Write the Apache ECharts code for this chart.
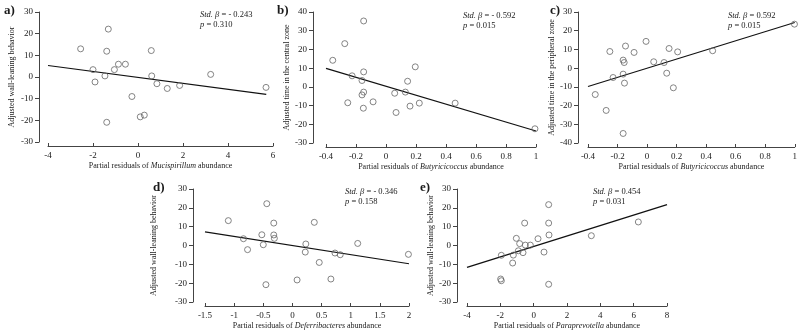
<!DOCTYPE html>
<html>
<head>
<meta charset="utf-8">
<script src="https://cdn.jsdelivr.net/npm/echarts@6.0.0/dist/echarts.min.js"></script>
<style>
    html, body { margin: 0; padding: 0; background: #fff; }
    #chart { width: 800px; height: 336px; }
</style>
</head>
<body>
<div id="chart"></div>
<script>
// values
const aX = [-2.55, -1.32, -1.39, 0.59, -2.0, -1.91, -1.47, -1.05, -0.87, -0.56, -0.27, 0.10, 0.28, -1.39, 0.61, 0.84, 1.30, 1.85, 3.23, 5.69];
const aY = [13.0, 22.1, 11.9, 12.2, 3.4, -2.3, 0.5, 3.4, 5.9, 5.9, -9.0, -18.4, -17.6, -20.9, 0.5, -3.1, -5.3, -3.9, 1.2, -4.8];
const bX = [-0.355, -0.275, -0.149, -0.226, -0.160, -0.149, -0.149, -0.160, -0.255, -0.151, -0.086, 0.058, 0.067, 0.129, 0.144, 0.195, 0.160, 0.222, 0.461, 0.993];
const bY = [14.2, 23.1, 35.2, 5.9, 3.4, 8.0, -2.8, -4.3, -8.5, -11.4, -8.0, -3.4, -13.7, -2.8, 3.0, 10.7, -10.3, -8.7, -8.7, -22.4];
const cX = [-0.351, -0.277, -0.252, -0.230, -0.162, -0.155, -0.146, -0.162, -0.153, -0.162, -0.088, -0.007, 0.045, 0.115, 0.133, 0.149, 0.207, 0.178, 0.444, 0.998];
const cY = [-14.1, -22.6, 8.9, -5.0, 4.3, 3.0, 11.8, -3.2, -8.0, -34.9, 8.4, 14.3, 3.4, 3.0, -2.7, 10.5, 8.7, -10.5, 9.3, 23.5];
const dX = [-1.10, -0.44, -0.32, 0.375, -0.84, -0.77, -0.525, -0.50, -0.32, -0.31, -0.455, 0.23, 0.22, 0.46, 0.08, 0.66, 0.73, 0.82, 1.12, 1.99];
const dY = [13.2, 22.2, 11.9, 12.3, 3.6, -2.2, 5.7, 0.4, 5.6, 3.8, -20.8, 0.8, -3.5, -9.0, -18.3, -17.8, -4.0, -4.9, 1.1, -4.7];
const eX = [0.9, -0.54, 0.9, 0.92, 3.46, 6.28, -1.04, -0.84, -0.5, -0.2, 0.26, -1.94, -1.22, -0.92, -0.64, 0.62, -1.26, -1.98, -1.94, 0.9];
const eY = [21.7, 11.9, 11.9, 5.6, 5.2, 12.5, 3.8, 1.0, 0.2, 0.2, 3.6, -5.2, -5.1, -2.8, -3.8, -3.5, -9.3, -17.8, -18.7, -20.6];

// regression line end points
const aFitX = [-4, 5.7], aFitY = [5.3, -8.0];
const bFitX = [-0.4, 1.0], bFitY = [9.9, -23.6];
const cFitX = [-0.4, 1.0], cFitY = [-9.8, 24.4];
const dFitX = [-1.5, 2.0], dFitY = [7.2, -9.7];
const eFitX = [-4, 8], eFitY = [-11.6, 21.7];

// tick labels
const aXTicks = [-4, -2, 0, 2, 4, 6], aYTicks = [-30, -20, -10, 0, 10, 20, 30];
const bXTicks = [-0.4, -0.2, 0, 0.2, 0.4, 0.6, 0.8, 1], bYTicks = [-30, -20, -10, 0, 10, 20, 30, 40];
const cXTicks = [-0.4, -0.2, 0, 0.2, 0.4, 0.6, 0.8, 1], cYTicks = [-40, -30, -20, -10, 0, 10, 20, 30];
const dXTicks = [-1.5, -1, -0.5, 0, 0.5, 1, 1.5, 2], dYTicks = [-30, -20, -10, 0, 10, 20, 30];
const eXTicks = [-4, -2, 0, 2, 4, 6, 8], eYTicks = [-30, -20, -10, 0, 10, 20, 30];

const panelLetters = ["a)", "b)", "c)", "d)", "e)"];
const yNames = [
    "Adjusted wall-leaning behavior",
    "Adjusted time in the central zone",
    "Adjusted time in the peripheral zone",
    "Adjusted wall-leaning behavior",
    "Adjusted wall-leaning behavior"
];
const genera = ["Mucispirillum", "Butyricicoccus", "Butyricicoccus", "Deferribacteres", "Paraprevotella"];
const betas = ["- 0.243", "- 0.592", "0.592", "- 0.346", "0.454"];
const pValues = ["0.310", "0.015", "0.015", "0.158", "0.031"];

const serif = "Liberation Serif";
const ink = "#1a1a1a";

const panels = [
    { xs: aX, ys: aY, fx: aFitX, fy: aFitY, xt: aXTicks, yt: aYTicks, left: 48, top: 12, width: 225, height: 130, yOff: 9, yGap: 23, tag: [4, 4], note: [200, 10] },
    { xs: bX, ys: bY, fx: bFitX, fy: bFitY, xt: bXTicks, yt: bYTicks, left: 326, top: 12, width: 210, height: 131, yOff: 13, yGap: 16, tag: [277, 4], note: [463, 11] },
    { xs: cX, ys: cY, fx: cFitX, fy: cFitY, xt: cXTicks, yt: cYTicks, left: 588, top: 12, width: 207, height: 131, yOff: 10, yGap: 19, tag: [550, 4], note: [728, 11] },
    { xs: dX, ys: dY, fx: dFitX, fy: dFitY, xt: dXTicks, yt: dYTicks, left: 205, top: 189, width: 204, height: 113, yOff: 12, yGap: 35, tag: [153, 181], note: [345, 187] },
    { xs: eX, ys: eY, fx: eFitX, fy: eFitY, xt: eXTicks, yt: eYTicks, left: 467, top: 189, width: 200, height: 113, yOff: 10, yGap: 22, tag: [420, 181], note: [593, 187] }
];

const zip = (xs, ys) => xs.map((x, i) => [x, ys[i]]);
const step = ticks => +(ticks[1] - ticks[0]).toFixed(6);

const grid = [], xAxis = [], yAxis = [], series = [], title = [];

panels.forEach((p, i) => {
    grid.push({ left: p.left, top: p.top, width: p.width, height: p.height });

    xAxis.push({
        type: "value",
        gridIndex: i,
        min: p.xt[0],
        max: p.xt[p.xt.length - 1],
        interval: step(p.xt),
        offset: 4,
        splitLine: { show: false },
        axisLine: { onZero: false, lineStyle: { color: "#444", width: 1 } },
        axisTick: { inside: true, length: 3, lineStyle: { color: "#444" } },
        axisLabel: { margin: 5, fontFamily: serif, fontSize: 9, color: ink },
        name: `Partial residuals of {i|${genera[i]}} abundance`,
        nameLocation: "middle",
        nameGap: 16,
        nameTextStyle: {
            fontFamily: serif, fontSize: 8, color: ink,
            rich: { i: { fontFamily: serif, fontSize: 8, fontStyle: "italic", color: ink } }
        }
    });

    yAxis.push({
        type: "value",
        gridIndex: i,
        min: p.yt[0],
        max: p.yt[p.yt.length - 1],
        interval: step(p.yt),
        offset: p.yOff,
        splitLine: { show: false },
        axisLine: { onZero: false, lineStyle: { color: "#444", width: 1 } },
        axisTick: { inside: false, length: 4, lineStyle: { color: "#444" } },
        axisLabel: { margin: 6, fontFamily: serif, fontSize: 9, color: ink },
        name: yNames[i],
        nameLocation: "middle",
        nameGap: p.yGap,
        nameTextStyle: { fontFamily: serif, fontSize: 8, color: ink }
    });

    series.push({
        type: "line",
        xAxisIndex: i,
        yAxisIndex: i,
        data: zip(p.fx, p.fy),
        symbol: "none",
        silent: true,
        lineStyle: { color: "#111", width: 1.2 },
        z: 2
    });

    series.push({
        type: "scatter",
        xAxisIndex: i,
        yAxisIndex: i,
        data: zip(p.xs, p.ys),
        symbol: "circle",
        symbolSize: 6,
        itemStyle: { color: "rgba(255,255,255,0)", borderColor: "#666", borderWidth: 1 },
        z: 3
    });

    title.push({
        text: panelLetters[i],
        left: p.tag[0],
        top: p.tag[1],
        padding: 0,
        textStyle: { fontFamily: serif, fontSize: 13, fontWeight: "bold", color: ink }
    });

    title.push({
        text: `{i|Std. β} = ${betas[i]}\n{i|p} = ${pValues[i]}`,
        left: p.note[0],
        top: p.note[1],
        padding: 0,
        textStyle: {
            fontFamily: serif, fontSize: 8.5, fontWeight: "normal", color: ink, lineHeight: 10,
            rich: { i: { fontFamily: serif, fontSize: 8.5, fontStyle: "italic", color: ink, lineHeight: 10 } }
        }
    });
});

const chart = echarts.init(document.getElementById("chart"), null, { renderer: "canvas" });
chart.setOption({
    animation: false,
    backgroundColor: "#fff",
    title,
    grid,
    xAxis,
    yAxis,
    series
});
</script>
</body>
</html>
